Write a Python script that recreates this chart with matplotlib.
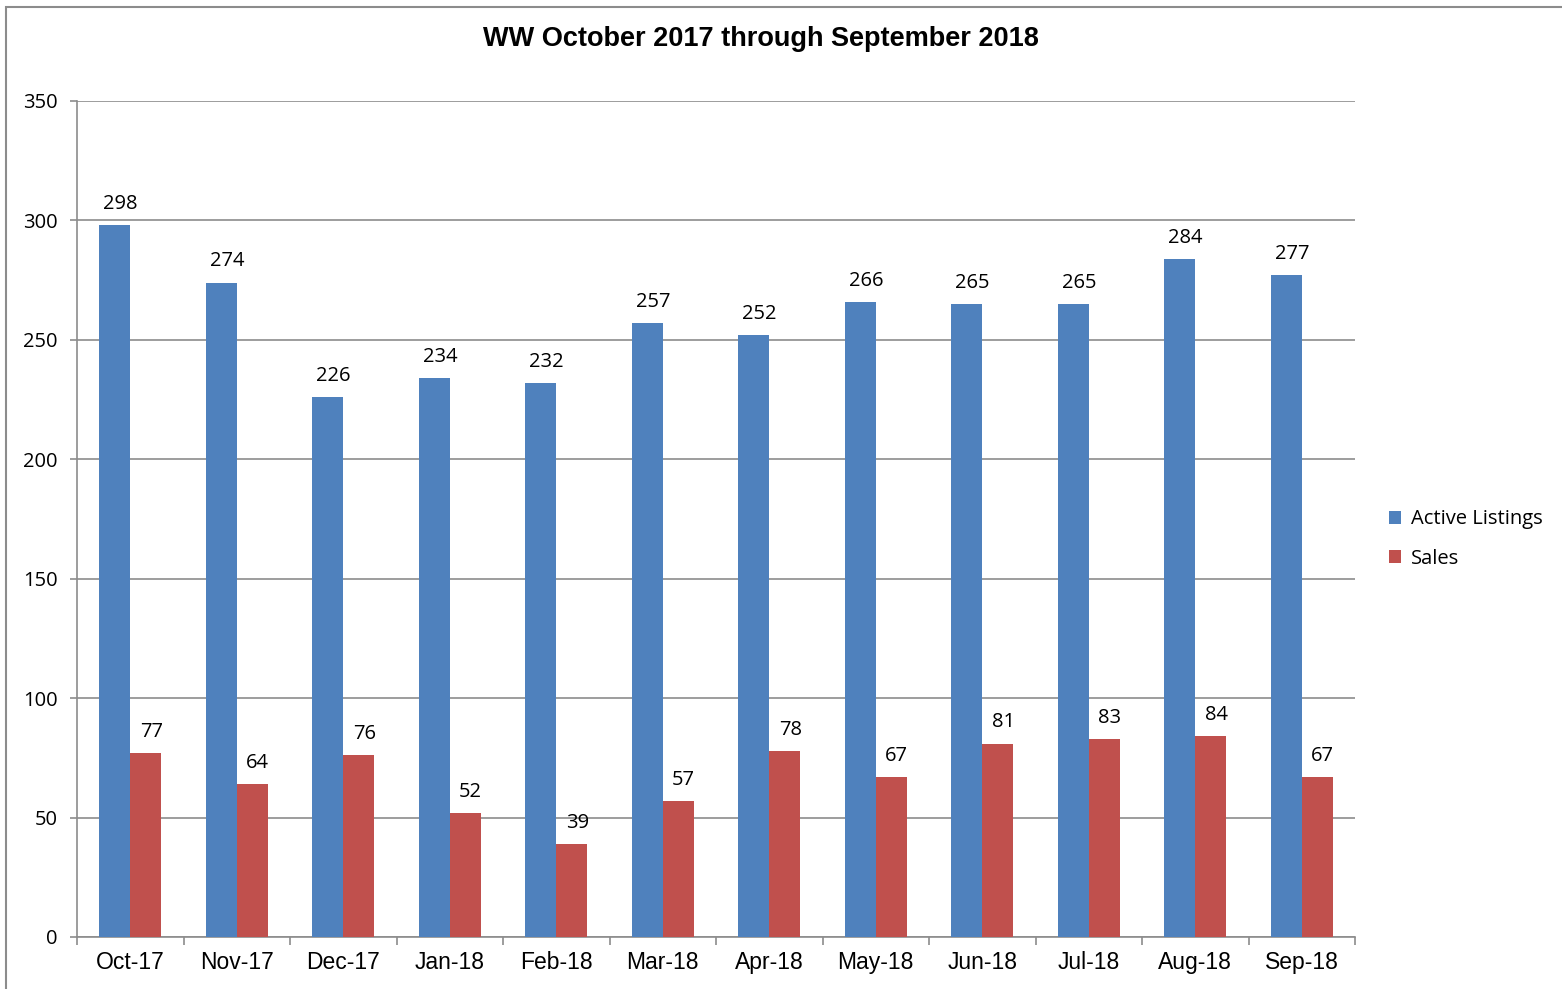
import numpy as np
import matplotlib.pyplot as plt
from matplotlib.patches import Rectangle

months = ["Oct-17", "Nov-17", "Dec-17", "Jan-18", "Feb-18", "Mar-18",
          "Apr-18", "May-18", "Jun-18", "Jul-18", "Aug-18", "Sep-18"]
active_listings = [298, 274, 226, 234, 232, 257, 252, 266, 265, 265, 284, 277]
sales = [77, 64, 76, 52, 39, 57, 78, 67, 81, 83, 84, 67]

blue = "#4F81BD"
red = "#C0504D"
grid_c = "#8C8C8C"
label_font = "Open Sans"

fig = plt.figure(figsize=(15.62, 9.89), dpi=100)
ax = fig.add_axes([77 / 1562, 52 / 989, 1278 / 1562, 836 / 989])

# outer chart border
fig.patches.append(Rectangle((6 / 1562, -0.02), 1.1, (989 - 7) / 989 + 0.02,
                             transform=fig.transFigure, fill=False,
                             edgecolor="#8C8C8C", linewidth=1.5))

x = np.arange(len(months))
w = 0.29
b1 = ax.bar(x - w / 2, active_listings, w, color=blue, label="Active Listings", zorder=3)
b2 = ax.bar(x + w / 2, sales, w, color=red, label="Sales", zorder=3)

for bars, vals in ((b1, active_listings), (b2, sales)):
    for r, v in zip(bars, vals):
        ax.annotate(str(v), (r.get_x() + r.get_width() / 2, v), xytext=(4, 8),
                    textcoords="offset points", ha="center", va="bottom",
                    fontsize=14.5, family=label_font)

ax.set_xlim(-0.5, len(months) - 0.5)
ax.set_ylim(0, 350)
ax.set_yticks(range(0, 351, 50))
ax.set_yticklabels([str(v) for v in range(0, 351, 50)], family=label_font, fontsize=14.5)
ax.set_xticks(x)
ax.set_xticklabels(months, family="Liberation Sans", fontsize=16.5)
ax.set_xticks(np.arange(-0.5, len(months)), minor=True)
ax.tick_params(axis="x", which="major", length=0, pad=10)
ax.tick_params(axis="x", which="minor", length=6, color=grid_c, width=1.2)
ax.tick_params(axis="y", length=5, color=grid_c, width=1.2, pad=9)

ax.grid(axis="y", color=grid_c, linewidth=1.2, zorder=0)
for s in ("top", "right"):
    ax.spines[s].set_visible(False)
for s in ("left", "bottom"):
    ax.spines[s].set_color(grid_c)
    ax.spines[s].set_linewidth(1.2)

fig.text(761 / 1562, 1 - 39 / 989, "WW October 2017 through September 2018",
         ha="center", va="center", family="Liberation Sans", fontweight="bold", fontsize=19.5)

fig.legend(handles=[b1, b2], loc="center left", bbox_to_anchor=(1371 / 1562, 1 - 539 / 989),
           frameon=False, prop={"family": label_font, "size": 14.5},
           handlelength=0.6, handleheight=0.6, handletextpad=0.5, labelspacing=0.95)

fig.savefig("out.png", dpi=100)
